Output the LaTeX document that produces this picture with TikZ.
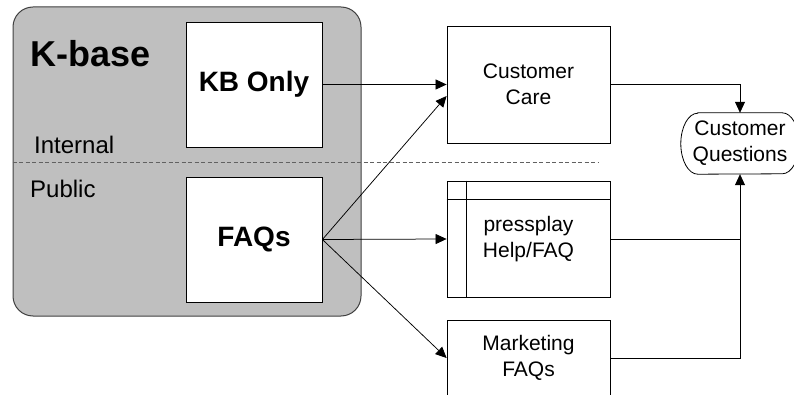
\documentclass[tikz,border=0pt]{standalone}
\usepackage{fontspec}
\setmainfont{Liberation Sans}
\usetikzlibrary{arrows.meta,calc}
\begin{document}
\begin{tikzpicture}[x=1pt,y=-1pt,
  box/.style={draw=black,line width=0.8pt,fill=white,inner sep=0pt,align=center},
  bigbox/.style={box,minimum width=136pt,minimum height=125pt,font=\fontsize{28}{28}\selectfont\bfseries},
  rbox/.style={box,minimum width=163pt,font=\fontsize{21}{26}\selectfont},
  conn/.style={line width=0.75pt,-{Triangle[length=11pt,width=10pt]}},
  plainline/.style={line width=0.75pt},
  lbl/.style={inner sep=0pt,anchor=base west,font=\fontsize{24}{24}\selectfont}]
\useasboundingbox (0,0) rectangle (794,395);
\clip (0,0) rectangle (794,395);
% container
\node[draw=black!75,fill=black!25,rounded corners=20pt,line width=1pt,
      minimum width=348pt,minimum height=309pt,inner sep=0pt] (kb) at (187,161.5) {};
\node[inner sep=0pt,anchor=base,font=\fontsize{36}{36}\selectfont\bfseries] (kt) at (91,67) {K-base};
\node[lbl] (int) at (34,154) {Internal};
\node[lbl] (pub) at (30,198) {Public};
\coordinate (dashend) at (599,162);
\draw[black!62,line width=0.9pt,dash pattern=on 4pt off 2.5pt] (kb.west |- dashend) -- (dashend);
% inner boxes
\node[bigbox] (kbo) at (254,84.5) {KB Only};
\node[bigbox] (faq) at (254,239.5) {FAQs};
% right boxes
\node[rbox,minimum height=117pt] (cc) at (528.5,84.5) {Customer\\Care};
\node[rbox,minimum height=116pt] (pp) at (528.5,239) {pressplay\\Help/FAQ};
\draw[line width=0.8pt] ($(pp.north west)+(20,0)$) -- ($(pp.south west)+(20,0)$);
\draw[line width=0.8pt] ($(pp.north west)+(0,19)$) -- ($(pp.north east)+(0,19)$);
\node[rbox,minimum height=76pt] (mk) at (528.5,358) {Marketing\\FAQs};
% customer questions
\node[inner sep=0pt,align=center,minimum width=118pt,minimum height=61pt,
      font=\fontsize{21}{26}\selectfont] (cq) at (740,143.5) {Customer\\Questions};
\draw[line width=0.8pt] ($(cq.north west)+(17,0)$) -- ($(cq.north east)+(-17,0)$)
   arc[start angle=90,end angle=-90,x radius=17pt,y radius=30.5pt]
   -- ($(cq.south west)+(17,0)$)
   arc[start angle=270,end angle=90,x radius=17pt,y radius=30.5pt] -- cycle;
% connectors
\draw[conn] (kbo.east) -- (cc.west);
\draw[conn] (faq.east) -- ($(cc.west)+(0,11.5)$);
\draw[conn] (faq.east) -- (pp.west);
\draw[conn] (faq.east) -- (mk.west);
\draw[conn] (cc.east) -| (cq.north);
\draw[plainline] (pp.east) -- (pp.east -| cq.south);
\draw[conn] (mk.east) -| (cq.south);
\end{tikzpicture}
\end{document}
